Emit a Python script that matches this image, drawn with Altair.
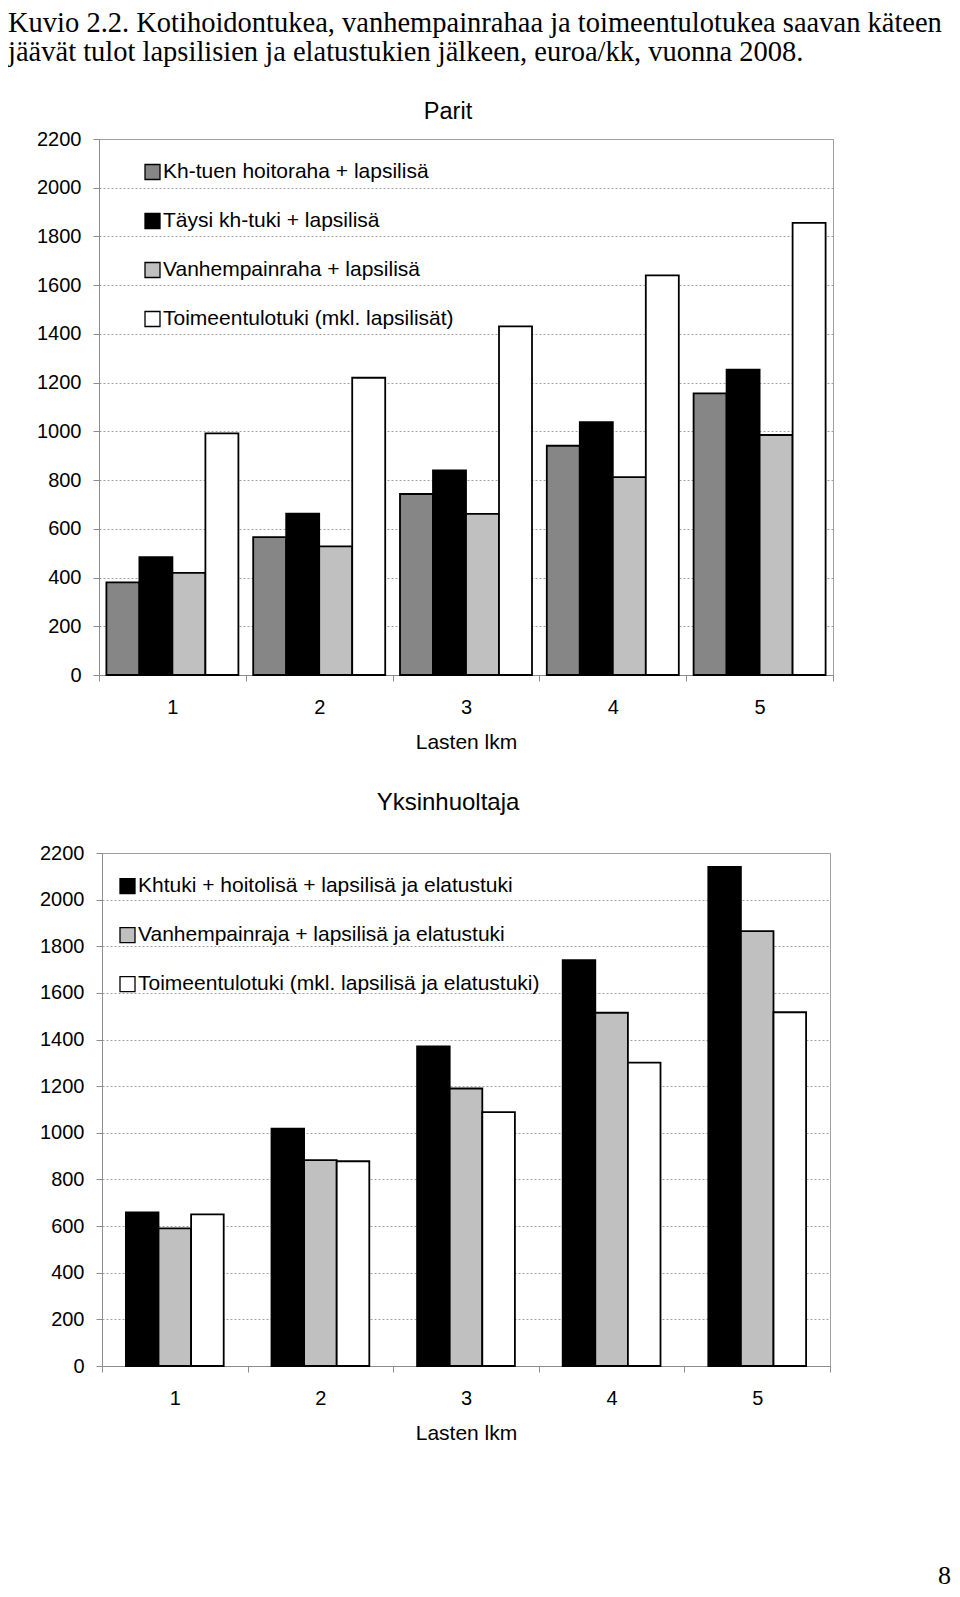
import altair as alt
import pandas as pd

categories = ["1", "2", "3", "4", "5"]

parit_series = [
    "Kh-tuen hoitoraha + lapsilisä",
    "Täysi kh-tuki + lapsilisä",
    "Vanhempainraha + lapsilisä",
    "Toimeentulotuki (mkl. lapsilisät)",
]
parit_colors = ["#868686", "#000000", "#c0c0c0", "#ffffff"]
parit_kh_hoitoraha = [380, 566, 743, 941, 1156]
parit_taysi_kh = [484, 662, 840, 1038, 1253]
parit_vanhempainraha = [419, 528, 661, 812, 985]
parit_toimeentulotuki = [992, 1220, 1431, 1640, 1856]

yh_series = [
    "Khtuki + hoitolisä + lapsilisä ja elatustuki",
    "Vanhempainraja + lapsilisä ja elatustuki",
    "Toimeentulotuki (mkl. lapsilisä ja elatustuki)",
]
yh_colors = ["#000000", "#c0c0c0", "#ffffff"]
yh_khtuki = [659, 1018, 1371, 1741, 2140]
yh_vanhempainraha = [590, 883, 1190, 1515, 1865]
yh_toimeentulotuki = [650, 878, 1089, 1301, 1517]

y_ticks = list(range(0, 2201, 200))
page_number = ["8"]

SANS = "Liberation Sans"
SERIF = "Liberation Serif"
AXIS_GRAY = "#8c8c8c"


def to_long(series, values):
    rows = []
    for s, vals in zip(series, values):
        for c, v in zip(categories, vals):
            rows.append({"n": c, "sarja": s, "arvo": v})
    return pd.DataFrame(rows)


def panel(df, series, colors, title, w, h, xpad, lx, ly, title_offset, title_size):
    bars = alt.Chart(df).mark_bar(stroke="black", strokeWidth=1.8).encode(
        x=alt.X(
            "n:N", sort=categories,
            scale=alt.Scale(paddingInner=0, paddingOuter=0),
            axis=alt.Axis(
                title="Lasten lkm", labelAngle=0, tickBand="extent",
                domainColor=AXIS_GRAY, tickColor=AXIS_GRAY, tickSize=6,
                labelFont=SANS, labelFontSize=20, labelColor="black", labelPadding=16,
                titleFont=SANS, titleFontSize=21, titleFontWeight="normal",
                titleColor="black", titlePadding=14.5, grid=False,
            ),
        ),
        xOffset=alt.XOffset(
            "sarja:N", sort=series,
            scale=alt.Scale(domain=series, paddingInner=0, paddingOuter=xpad),
        ),
        y=alt.Y(
            "arvo:Q",
            scale=alt.Scale(domain=[0, 2200], nice=False),
            axis=alt.Axis(
                title=None, values=y_ticks, format="d",
                domainColor=AXIS_GRAY, tickColor=AXIS_GRAY, tickSize=6,
                labelFont=SANS, labelFontSize=20, labelColor="black",
                labelPadding=12,
                grid=True, gridColor="#a0a0a0", gridDash=[2, 2], gridWidth=1,
            ),
        ),
        fill=alt.Fill(
            "sarja:N",
            scale=alt.Scale(domain=series, range=colors),
            legend=alt.Legend(
                title=None, orient="none", legendX=lx, legendY=ly,
                symbolType="square", symbolSize=225,
                symbolStrokeColor="black", symbolStrokeWidth=1.3,
                labelFont=SANS, labelFontSize=21, labelColor="black",
                labelOffset=0, rowPadding=27, padding=0, labelLimit=800,
            ),
        ),
    )
    return bars.properties(
        width=w, height=h,
        title=alt.TitleParams(
            title, font=SANS, fontSize=title_size, fontWeight="normal",
            color="black", anchor="middle", frame="group", dx=-18,
            offset=title_offset,
        ),
    )


parit_df = to_long(parit_series, [parit_kh_hoitoraha, parit_taysi_kh,
                                  parit_vanhempainraha, parit_toimeentulotuki])
yh_df = to_long(yh_series, [yh_khtuki, yh_vanhempainraha, yh_toimeentulotuki])

top = panel(parit_df, parit_series, parit_colors, "Parit",
            734, 536, 0.224, 43, 22.5, 6, 23.5)
bottom_bars = panel(yh_df, yh_series, yh_colors, "Yksinhuoltaja",
                    728, 513, 0.733, 15, 22.7, 28, 24)

num = alt.Chart(pd.DataFrame({"t": page_number})).mark_text(
    font=SERIF, fontSize=26, align="right", baseline="alphabetic", color="black"
).encode(text="t:N", x=alt.value(849), y=alt.value(731))

bottom = alt.layer(bottom_bars, num).properties(width=728, height=513)

chart = alt.vconcat(top, bottom, spacing=178, bounds="flush", center=True).resolve_scale(
    fill="independent", x="independent", xOffset="independent", y="independent"
).resolve_legend(fill="independent").properties(
    title=alt.TitleParams(
        [
            "Kuvio 2.2. Kotihoidontukea, vanhempainrahaa ja toimeentulotukea saavan käteen",
            "jäävät tulot lapsilisien ja elatustukien jälkeen, euroa/kk, vuonna 2008.",
        ],
        font=SERIF, fontSize=28.5, fontWeight="normal", color="black",
        anchor="start", lineHeight=29, offset=33, dx=-28,
    ),
    padding=0,
).configure_view(stroke="#a0a0a0", strokeWidth=1)

chart.save("out.html", embed_options={"renderer": "svg", "actions": False})
